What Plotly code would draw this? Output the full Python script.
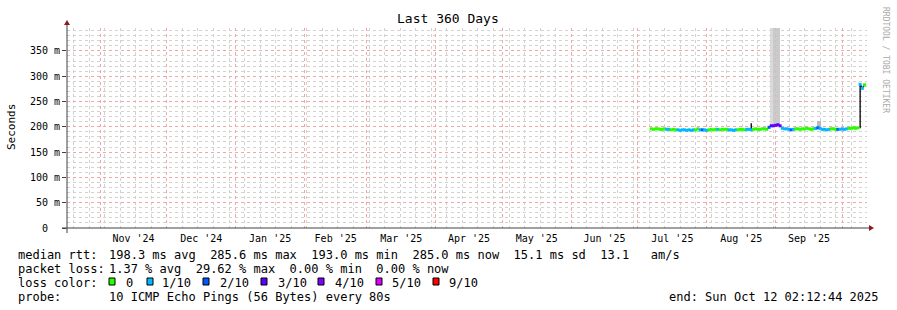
import plotly.graph_objects as go
import pandas as pd

# ---------------- data ----------------
start_day = "2025-07-07"
median_ms = [196, 195, 196, 196, 195, 195, 196, 195, 195, 194,
             195, 194, 194, 193, 194, 194, 193, 194, 193, 194,
             194, 196, 194, 194, 194, 193, 194, 195, 194, 195,
             195, 194, 195, 195, 195, 194, 194, 193, 194, 194,
             195, 195, 194, 195, 195, 194, 195, 196, 195, 195,
             196, 196, 195, 199, 202, 202, 203, 204, 202, 197,
             196, 196, 195, 194, 195, 196, 196, 195, 196, 196,
             197, 196, 195, 196, 197, 198, 197, 195, 195, 194,
             195, 196, 196, 195, 195, 195, 196, 195, 196, 197,
             197, 198, 197, 198, 284, 276, 283]
loss_level = [0, 0, 0, 0, 0, 0, 0, 1, 1, 0,
              0, 0, 1, 1, 1, 1, 1, 1, 1, 1,
              0, 0, 1, 2, 1, 1, 0, 0, 0, 0,
              1, 0, 0, 0, 0, 1, 1, 1, 1, 0,
              0, 0, 0, 1, 1, 1, 0, 0, 0, 0,
              0, 0, 0, 2, 3, 3, 3, 3, 3, 1,
              1, 1, 1, 2, 1, 0, 0, 0, 0, 0,
              0, 0, 0, 0, 1, 2, 1, 1, 1, 1,
              1, 0, 0, 0, 2, 1, 1, 1, 1, 0,
              0, 0, 0, 0, 1, 1, 0]
# vertical black strokes (day index, low ms, high ms)
stroke_day = [45, 94]
stroke_low = [193, 197]
stroke_high = [207, 284]
# smoke (grey) blocks
smoke_start = ["2025-08-29 06:00", "2025-08-30 14:00", "2025-09-19 12:00"]
smoke_end = ["2025-08-30 14:00", "2025-09-03 00:00", "2025-09-21 07:00"]
smoke_low = [203, 203, 198]
smoke_high = [420, 420, 211]
smoke_color = ["#d6d6d6", "#c6c6c6", "#b4b4b4"]

loss_labels = ["0", "1/10", "2/10", "3/10", "4/10", "5/10", "9/10"]
loss_values = [0, 1, 2, 3, 4, 5, 9]
loss_colors = ["#26ff00", "#00b8ff", "#0059ff", "#5e00ff", "#7e00ff", "#dd00ff", "#ff0000"]

y_ticks = [0, 50, 100, 150, 200, 250, 300, 350]
y_ticktext = ["0\u00a0\u00a0", "50 m", "100 m", "150 m", "200 m", "250 m", "300 m", "350 m"]

t_end = pd.Timestamp("2025-10-12 02:12:44")
t_start = t_end - pd.Timedelta(days=360)

# ---------------- geometry ----------------
W, H = 897, 310
PL, PR, PT, PB = 67, 867, 28, 228
FONT = "DejaVu Sans Mono"


def px(x):
    return x / W


def py(y):
    return 1 - y / H


def nb(s):
    return s.replace(" ", "\u00a0")


days = pd.date_range(start_day, periods=len(median_ms), freq="D")
color_of = dict(zip(loss_values, loss_colors))

fig = go.Figure()

# smoke
s0 = pd.to_datetime(smoke_start)
s1 = pd.to_datetime(smoke_end)
centers = s0 + (s1 - s0) / 2
widths = [(b - a).total_seconds() * 1000 for a, b in zip(s0, s1)]
fig.add_trace(go.Bar(
    x=centers, y=[h - l for l, h in zip(smoke_low, smoke_high)], base=smoke_low,
    width=widths, marker=dict(color=smoke_color, line=dict(width=0)),
    opacity=0.9, hoverinfo="skip", showlegend=False))

# black strokes
sx, sy = [], []
for d, lo, hi in zip(stroke_day, stroke_low, stroke_high):
    sx += [days[d], days[d], None]
    sy += [lo, hi, None]
sx += list(days[94:97])
sy += median_ms[94:97]
fig.add_trace(go.Scatter(x=sx, y=sy, mode="lines", line=dict(color="#000000", width=1.3),
                         hoverinfo="skip", showlegend=False))

# median coloured by loss
fig.add_trace(go.Scatter(
    x=days, y=median_ms, mode="markers",
    marker=dict(symbol="square", size=3, color=[color_of[v] for v in loss_level], line=dict(width=0)),
    hoverinfo="skip", showlegend=False))

fig.update_layout(
    template="none",
    width=W, height=H, autosize=False, margin=dict(l=0, r=0, t=0, b=0, pad=0),
    paper_bgcolor="white", plot_bgcolor="white", showlegend=False,
    font=dict(family=FONT, size=10, color="#000000"),
    bargap=0,
    xaxis=dict(
        domain=[px(PL), px(PR)], range=[t_start, t_end], type="date", automargin=False,
        tickmode="linear", tick0="2024-11-01", dtick="M1", ticklabelmode="period",
        tickformat="%b '%y", showgrid=True, gridcolor="#f2a6a6", griddash="dot", gridwidth=1,
        ticks="", showline=False, zeroline=False, ticklabelstandoff=3,
        tickfont=dict(family=FONT, size=10),
        minor=dict(tickmode="linear", tick0="2024-10-20", dtick=7 * 86400000,
                   showgrid=True, gridcolor="#d2d2d2", griddash="dot", gridwidth=1),
    ),
    yaxis=dict(
        domain=[py(PB), py(PT)], range=[0, (PB - PT) * 50 / 25.3], automargin=False,
        tickmode="array", tickvals=y_ticks, ticktext=y_ticktext,
        showgrid=True, gridcolor="#f2a6a6", griddash="dot", gridwidth=1,
        ticks="outside", ticklen=4, tickcolor="#404040",
        showline=False, zeroline=False,
        tickfont=dict(family=FONT, size=10),
        minor=dict(dtick=10, showgrid=True, gridcolor="#d2d2d2", griddash="dot", gridwidth=1),
    ),
)

shapes = []
# axes
shapes.append(dict(type="line", xref="paper", yref="paper", x0=px(PL), x1=px(PL), y0=py(233), y1=py(24),
                   line=dict(color="#404040", width=1)))
shapes.append(dict(type="line", xref="paper", yref="paper", x0=px(62), x1=px(869), y0=py(PB), y1=py(PB),
                   line=dict(color="#404040", width=1)))
# arrows
shapes.append(dict(type="path", xref="paper", yref="paper",
                   path=f"M {px(64)} {py(25)} L {px(70)} {py(25)} L {px(67)} {py(20)} Z",
                   fillcolor="#8b1a1a", line=dict(width=0)))
shapes.append(dict(type="path", xref="paper", yref="paper",
                   path=f"M {px(869)} {py(225)} L {px(869)} {py(231)} L {px(874)} {py(228)} Z",
                   fillcolor="#8b1a1a", line=dict(width=0)))

annotations = []


def txt(x, y, s, size=12, anchor="left", color="#000000", angle=0):
    annotations.append(dict(x=px(x), y=py(y), xref="paper", yref="paper", text=nb(s),
                            showarrow=False, xanchor=anchor, yanchor="middle", textangle=angle,
                            font=dict(family=FONT, size=size, color=color)))


txt(448, 19, "Last 360 Days", size=13, anchor="center")
txt(11, 127, "Seconds", size=11, anchor="center", angle=-90)
txt(886, 60, "RRDTOOL / TOBI OETIKER", size=8, anchor="center", color="#aaaaaa", angle=90)

txt(16, 254.5, "median rtt:")
txt(107, 254.5, "198.3 ms avg  285.6 ms max  193.0 ms min  285.0 ms now  15.1 ms sd  13.1   am/s")
txt(16, 268.5, "packet loss:")
txt(107, 268.5, "1.37 % avg  29.62 % max  0.00 % min  0.00 % now")
txt(16, 282.5, "loss color:")
sq_x = [109, 147, 203, 261, 318, 376, 433]
lab_x = [124, 160, 218, 276, 333, 390, 447]
for sx0, lx, lab, col in zip(sq_x, lab_x, loss_labels, loss_colors):
    shapes.append(dict(type="rect", xref="paper", yref="paper", x0=px(sx0), x1=px(sx0 + 6),
                       y0=py(285), y1=py(278), fillcolor=col, line=dict(color="#000000", width=1)))
    txt(lx, 282.5, lab)
txt(16, 296.5, "probe:")
txt(107, 296.5, "10 ICMP Echo Pings (56 Bytes) every 80s")
txt(881, 296.5, "end: Sun Oct 12 02:12:44 2025", anchor="right")

fig.update_layout(shapes=shapes, annotations=annotations)
fig.write_html("out.html", config={"responsive": False})
